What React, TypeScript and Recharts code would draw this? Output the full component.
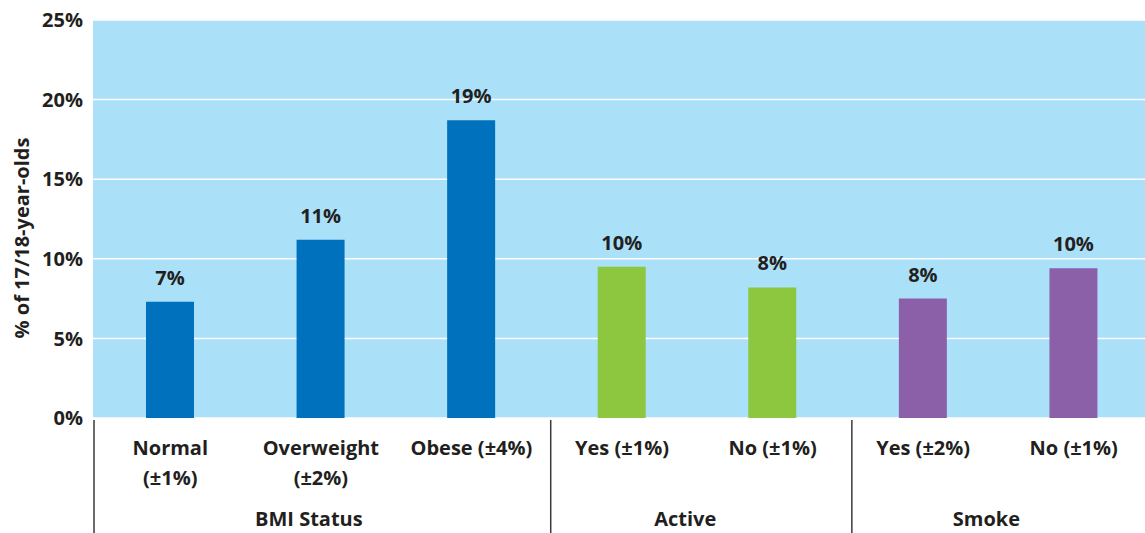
import { BarChart, Bar, XAxis, YAxis, CartesianGrid, Cell, LabelList } from "recharts";

const ids = ["normal", "overweight", "obese", "activeYes", "activeNo", "smokeYes", "smokeNo"];
const tickLines = [
  ["Normal", "(±1%)"],
  ["Overweight", "(±2%)"],
  ["Obese (±4%)"],
  ["Yes (±1%)"],
  ["No (±1%)"],
  ["Yes (±2%)"],
  ["No (±1%)"],
];
const groups = ["BMI Status", "BMI Status", "BMI Status", "Active", "Active", "Smoke", "Smoke"];
const values = [7.3, 11.2, 18.7, 9.5, 8.2, 7.5, 9.4];
const valueLabels = ["7%", "11%", "19%", "10%", "8%", "8%", "10%"];
const yTicks = [0, 5, 10, 15, 20, 25];
const groupColors: Record<string, string> = {
  "BMI Status": "#0071BC",
  Active: "#8DC63F",
  Smoke: "#8B60A8",
};

const data = ids.map((id, i) => ({ id, value: values[i], label: valueLabels[i] }));

const W = 1149;
const H = 533;
const Y_W = 93;
const PAD_L = 2;
const PLOT_W = W - Y_W - PAD_L;
const FONT = "'Open Sans', 'Noto Sans', sans-serif";
const INK = "#231F20";

const CategoryTick = (props: any) => {
  const { x, payload } = props;
  const i = payload.index;
  const bw = PLOT_W / ids.length;
  const axisY = 418;
  const lines = tickLines[i];
  const first = i === 0 || groups[i - 1] !== groups[i];
  const count = groups.filter((g) => g === groups[i]).length;
  const left = i === 0 ? Y_W + 1 : x - bw / 2 + 4;
  return (
    <g>
      {lines.map((t, k) => (
        <text
          key={k}
          x={x}
          y={axisY + 37 + k * 30}
          textAnchor="middle"
          fill={INK}
          fontSize={20}
          fontWeight="bold"
          fontFamily={FONT}
        >
          {t}
        </text>
      ))}
      {first && (
        <>
          <line x1={left} x2={left} y1={axisY + 2} y2={H} stroke="#3a3a3a" strokeWidth={1.5} />
          <text
            x={x - bw / 2 + (count * bw) / 2 - 12}
            y={axisY + 108}
            textAnchor="middle"
            fill={INK}
            fontSize={20}
            fontWeight="bold"
            fontFamily={FONT}
          >
            {groups[i]}
          </text>
        </>
      )}
    </g>
  );
};

const YTitle = () => {
  const cy = 238;
  return (
    <text
      x={29}
      y={cy}
      transform={`rotate(-90, 29, ${cy})`}
      textAnchor="middle"
      fill={INK}
      fontSize={20}
      fontWeight="bold"
      fontFamily={FONT}
    >
      % of 17/18-year-olds
    </text>
  );
};

export default function App() {
  return (
    <div style={{ position: "absolute", left: 0, top: 0, width: 1145, height: 533, overflow: "hidden", background: "#fff" }}>
      <BarChart width={W} height={H} data={data} margin={{ top: 20, right: 0, bottom: 0, left: 0 }}>
        <CartesianGrid vertical={false} fill="#ABE0F9" stroke="#ffffff" strokeWidth={1.5} />
        <XAxis
          dataKey="id"
          height={115}
          axisLine={false}
          tickLine={false}
          interval={0}
          padding={{ left: PAD_L, right: 0 }}
          tick={<CategoryTick />}
        />
        <YAxis
          width={Y_W}
          domain={[0, 25]}
          ticks={yTicks}
          axisLine={false}
          tickLine={false}
          tickMargin={4}
          tickFormatter={(v: number) => `${v}%`}
          tick={{ fill: INK, fontSize: 20, fontWeight: "bold", fontFamily: FONT }}
          label={{ content: <YTitle /> }}
        />
        <Bar dataKey="value" barSize={48} isAnimationActive={false}>
          {data.map((d, i) => (
            <Cell key={d.id} fill={groupColors[groups[i]]} />
          ))}
          <LabelList
            dataKey="label"
            position="top"
            offset={17}
            fill={INK}
            fontSize={20}
            fontWeight="bold"
            fontFamily={FONT}
          />
        </Bar>
      </BarChart>
    </div>
  );
}
